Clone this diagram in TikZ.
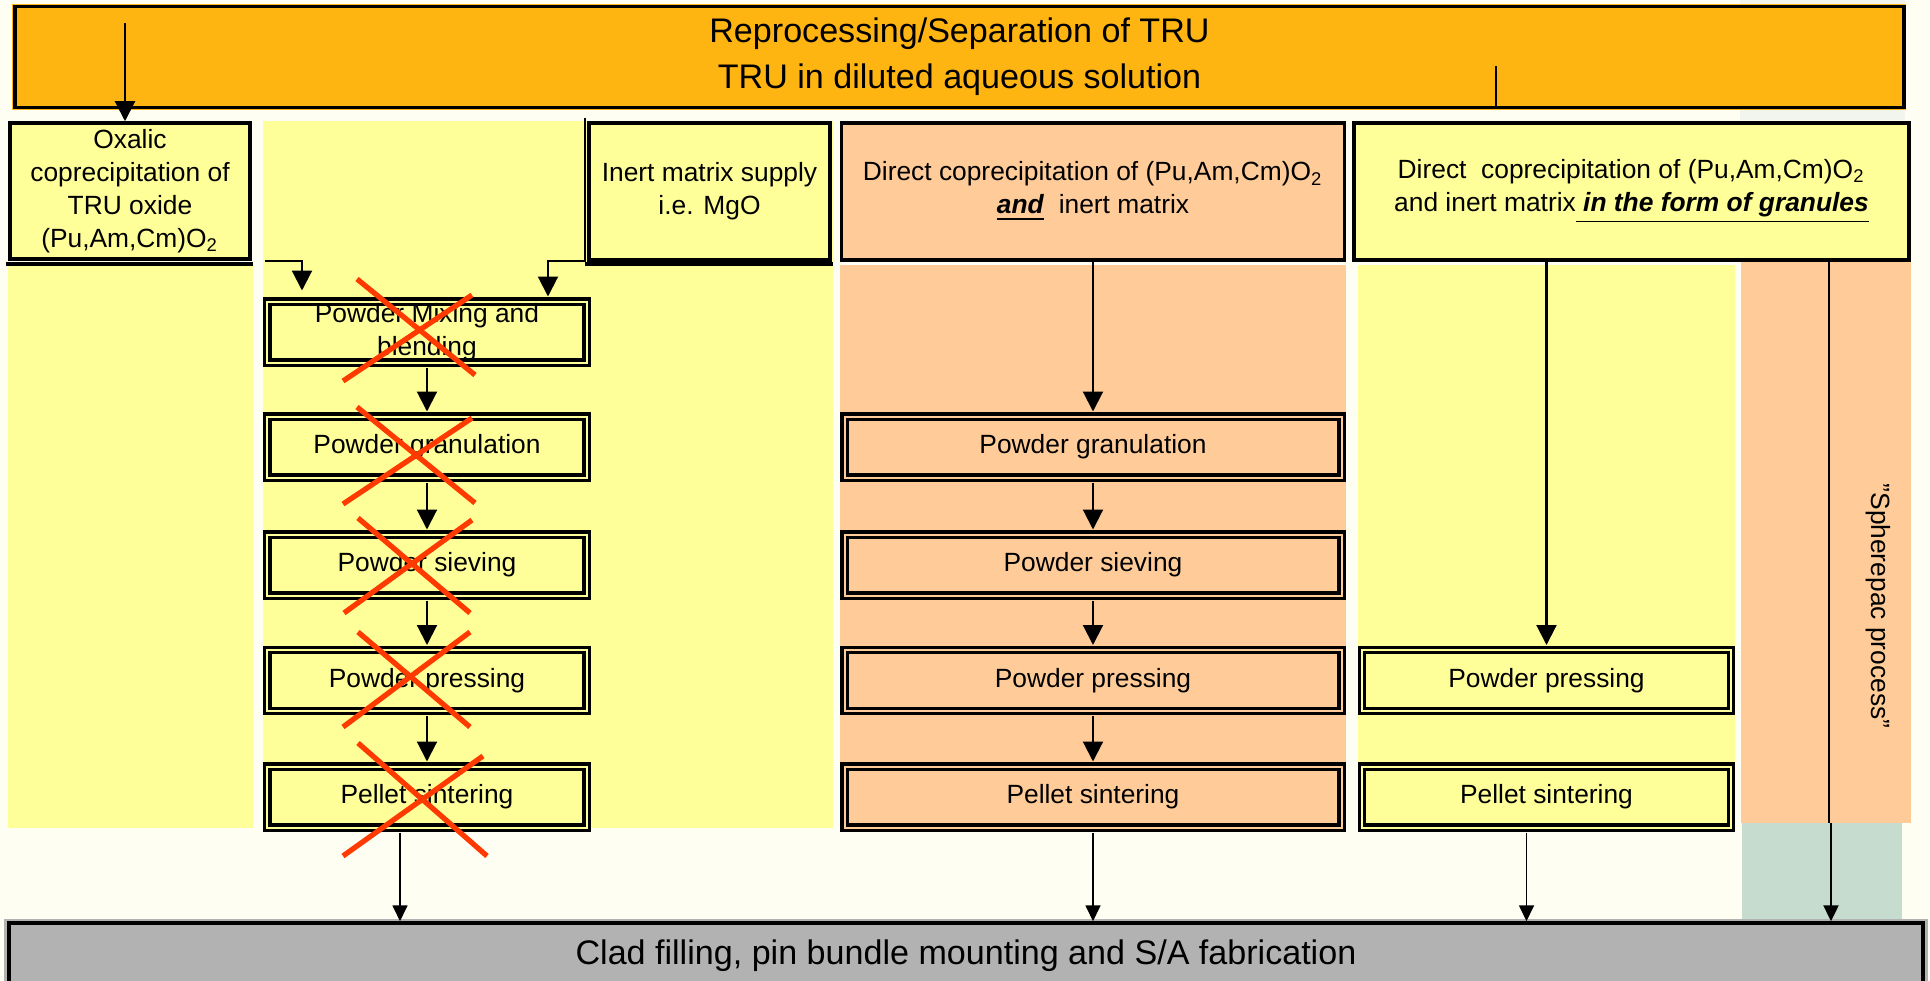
\documentclass[tikz,border=0pt]{standalone}
\usepackage{fontspec}
\setmainfont{Liberation Sans}
\usetikzlibrary{arrows.meta,positioning}

\definecolor{truorange}{RGB}{255,181,17}
\definecolor{padyellow}{RGB}{255,255,153}
\definecolor{padpeach}{RGB}{255,204,153}
\definecolor{padsage}{RGB}{197,220,207}
\definecolor{padmist}{RGB}{242,245,237}
\definecolor{cladgray}{RGB}{178,178,178}
\definecolor{sheet}{RGB}{254,254,242}
\definecolor{strike}{RGB}{255,58,0}

\newcommand{\boxfont}{\fontsize{7.5}{9.4}\selectfont}
\newcommand{\headfont}{\fontsize{9.7}{13.1}\selectfont}

\tikzset{
  srcbox/.style={draw, line width=1pt, align=center, font=\boxfont, inner sep=0pt},
  stepbox/.style={draw, line width=0.94pt, double distance=0.57pt, align=center,
    font=\boxfont, minimum height=0.61cm, outer sep=0.05cm, inner sep=0pt},
  yellowstep/.style={stepbox, fill=padyellow, double=padyellow},
  peachstep/.style={stepbox, fill=padpeach, double=padpeach},
  flow/.style={line width=0.6pt, -{Triangle[width=0.2cm,length=0.2cm]}},
  feed/.style={line width=0.5pt, -{Triangle[width=0.15cm,length=0.16cm]}},
  strikeout/.style={strike, line width=1.5pt},
}

\begin{document}
\begin{tikzpicture}
  \useasboundingbox (0,0) rectangle (19.30,-9.81);
  % backgrounds of the process columns
  \fill [sheet] (0,0) rectangle (19.30,-9.81);
  \fill [padmist] (17.40,0) rectangle (19.05,-1.20);
  \fill [truorange] (0.12,-0.04) rectangle (19.06,-1.10);
  \fill [padyellow] (0.08,-2.65) rectangle (2.53,-8.28);
  \fill [padyellow] (2.63,-1.21) rectangle (8.33,-8.28);
  \fill [padpeach] (8.40,-2.65) rectangle (13.46,-8.30);
  \fill [padyellow] (13.58,-2.65) rectangle (17.35,-8.30);
  \fill [padpeach] (17.41,-2.61) rectangle (19.11,-8.23);
  \fill [padsage] (17.42,-8.23) rectangle (19.02,-9.19);
  \fill [cladgray] (0.04,-9.19) rectangle (19.28,-9.81);

  \node (tru) [draw, fill=truorange, line width=1pt, minimum width=18.89cm, minimum height=1cm,
    align=center, font=\headfont] at (9.595,-0.57)
    {Reprocessing/Separation of TRU\\TRU in diluted aqueous solution};
  \node (clad) [draw, fill=cladgray, line width=1pt, minimum width=19.14cm, minimum height=0.66cm,
    font=\headfont] at (9.66,-9.56) {Clad filling, pin bundle mounting and S/A fabrication};

  % feed materials
  \node (oxalic) [srcbox, fill=padyellow, minimum width=2.40cm, minimum height=1.36cm] at (1.30,-1.91)
    {Oxalic\\coprecipitation of\\TRU oxide\\(Pu,Am,Cm)O\textsubscript{2}};
  \node (inert) [srcbox, fill=padyellow, minimum width=2.41cm, minimum height=1.37cm] at (7.095,-1.915)
    {Inert matrix supply\\i.e. MgO};
  \node (mixed) [srcbox, fill=padpeach, minimum width=5.03cm, minimum height=1.37cm] at (10.93,-1.915)
    {Direct coprecipitation of (Pu,Am,Cm)O\textsubscript{2}\\
     \underline{\textbf{\textit{and}}}\ \ inert matrix};
  \node (granules) [srcbox, fill=padyellow, minimum width=5.55cm, minimum height=1.37cm] at (16.315,-1.915)
    {Direct\ \ coprecipitation of (Pu,Am,Cm)O\textsubscript{2}\\
     and inert matrix\underline{\ \textbf{\textit{in the form of granules}}}};
  \draw [line width=1pt] (0.06,-2.64) -- (2.53,-2.64);
  \draw [line width=1pt] (5.85,-2.64) -- (8.33,-2.64);

  % powder route (dropped)
  \node (mixB) [yellowstep, minimum width=3.195cm] at (4.27,-3.32) {Powder Mixing and\\blending};
  \node (granB) [yellowstep, minimum width=3.195cm] at (4.27,-4.47) {Powder granulation};
  \node (sievB) [yellowstep, minimum width=3.195cm] at (4.27,-5.65) {Powder sieving};
  \node (pressB) [yellowstep, minimum width=3.195cm] at (4.27,-6.805) {Powder pressing};
  \node (sintB) [yellowstep, minimum width=3.195cm] at (4.27,-7.97) {Pellet sintering};

  % direct coprecipitation route
  \node (granC) [peachstep, minimum width=4.97cm] at (10.93,-4.47) {Powder granulation};
  \node (sievC) [peachstep, minimum width=4.97cm] at (10.93,-5.65) {Powder sieving};
  \node (pressC) [peachstep, minimum width=4.97cm] at (10.93,-6.805) {Powder pressing};
  \node (sintC) [peachstep, minimum width=4.97cm] at (10.93,-7.97) {Pellet sintering};

  % granules route
  \node (pressD) [yellowstep, minimum width=3.69cm] at (15.465,-6.805) {Powder pressing};
  \node (sintD) [yellowstep, minimum width=3.69cm] at (15.465,-7.97) {Pellet sintering};

  \node (sphere) [rotate=-90, font=\boxfont] at (18.78,-6.06) {"Spherepac process"};

  % connectors
  \coordinate (trusrc) at (1.25,-0.23);
  \draw [flow] (trusrc) -- (trusrc |- oxalic.north);
  \draw [line width=0.6pt] (14.96,-0.66) -- (14.96,0 |- tru.south);
  \coordinate (oxfeed) at (2.65,-2.61);
  \draw [flow, shorten >=0.06cm] (oxfeed) -| ([xshift=-1.25cm]mixB.north);
  \coordinate (mgsrc) at (5.85,-1.18);
  \draw [flow] (mgsrc) |- ([xshift=1.21cm]mixB.north |- oxfeed) -- ([xshift=1.21cm]mixB.north);
  \draw [flow] (mixB) -- (granB);
  \draw [flow] (granB) -- (sievB);
  \draw [flow] (sievB) -- (pressB);
  \draw [flow] (pressB) -- (sintB);

  \draw [flow] (mixed) -- (granC);
  \draw [flow] (granC) -- (sievC);
  \draw [flow] (sievC) -- (pressC);
  \draw [flow] (pressC) -- (sintC);

  \draw [flow] (granules.south -| pressD) -- (pressD);

  \coordinate (sph) at (18.29,-2.61);
  \draw [line width=0.7pt] (sph) -- (sph |- 0,-8.23);
  \draw [feed, line width=0.7pt] (18.31,-8.23) -- (18.31,0 |- clad.north);

  \draw [feed] ([xshift=-0.27cm]sintB.south) -- ([xshift=-0.27cm]sintB.south |- clad.north);
  \draw [feed] (sintC.south) -- (sintC.south |- clad.north);
  \draw [feed] ([xshift=-0.2cm]sintD.south) -- ([xshift=-0.2cm]sintD.south |- clad.north);

  % crossed-out steps
  \draw [strikeout] (3.57,-2.79) -- (4.75,-3.75);
  \draw [strikeout] (4.72,-2.95) -- (3.43,-3.81);
  \draw [strikeout] (3.57,-4.07) -- (4.75,-5.03);
  \draw [strikeout] (4.72,-4.18) -- (3.43,-5.04);
  \draw [strikeout] (3.58,-5.18) -- (4.70,-6.13);
  \draw [strikeout] (4.72,-5.20) -- (3.44,-6.13);
  \draw [strikeout] (3.58,-6.32) -- (4.70,-7.27);
  \draw [strikeout] (4.70,-6.32) -- (3.43,-7.27);
  \draw [strikeout] (3.58,-7.43) -- (4.87,-8.56);
  \draw [strikeout] (4.83,-7.56) -- (3.43,-8.56);
\end{tikzpicture}
\end{document}
